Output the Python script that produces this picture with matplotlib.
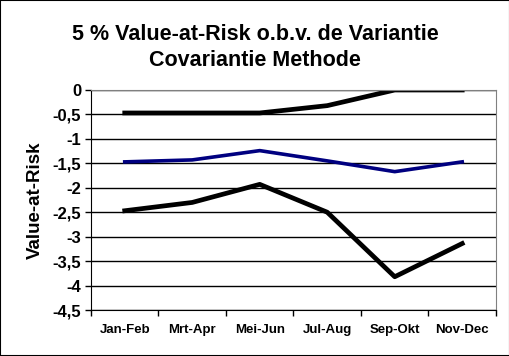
import numpy as np
import matplotlib.pyplot as plt
from matplotlib.patches import Rectangle

plt.rcParams['font.family'] = ['Liberation Sans', 'DejaVu Sans']

periods = ["Jan-Feb", "Mrt-Apr", "Mei-Jun", "Jul-Aug", "Sep-Okt", "Nov-Dec"]
var_upper = [-0.47, -0.47, -0.47, -0.32, 0.0, 0.0]
var_mid = [-1.47, -1.43, -1.24, -1.45, -1.67, -1.47]
var_lower = [-2.47, -2.30, -1.93, -2.50, -3.82, -3.14]

fig = plt.figure(figsize=(5.10, 3.56), dpi=100)
fig.patches.append(Rectangle((0, 0), 1, 1, transform=fig.transFigure,
                             fill=False, edgecolor='black', linewidth=1.5))
ax = fig.add_axes([0.1784, 0.1292, 0.7941, 0.618])

x = np.arange(len(periods))
ax.plot(x, var_upper, color='black', linewidth=3.4)
ax.plot(x, var_mid, color='#000080', linewidth=2.6)
ax.plot(x, var_lower, color='black', linewidth=3.4)

ax.set_xlim(-0.5, len(periods) - 0.5)
ax.set_ylim(-4.5, 0)
yt = np.arange(-4.5, 0.01, 0.5)
ax.set_yticks(yt)
ax.set_yticklabels([('%g' % v).replace('.', ',') for v in yt],
                   fontsize=12, fontweight='bold')
ax.yaxis.grid(True, color='black', linewidth=1)
ax.set_axisbelow(True)

ax.set_xticks(x)
ax.set_xticklabels(periods, fontsize=9.5, fontweight='bold')
ax.set_xticks(np.arange(-0.5, len(periods)), minor=True)
ax.tick_params(axis='x', which='major', length=0, pad=10)
ax.tick_params(axis='x', which='minor', length=4, direction='out', width=1)
ax.tick_params(axis='y', length=4, direction='out', width=1, pad=3)

for s in ['top', 'right']:
    ax.spines[s].set_color('#808080')
for s in ['left', 'bottom']:
    ax.spines[s].set_color('black')

ax.set_ylabel("Value-at-Risk", fontsize=13.5, fontweight='bold', labelpad=6)
fig.text(0.5, 0.867, "5 % Value-at-Risk o.b.v. de Variantie\nCovariantie Methode",
         ha='center', va='center', fontsize=15.5, fontweight='bold', linespacing=1.35)

fig.savefig("out.png", dpi=100)
